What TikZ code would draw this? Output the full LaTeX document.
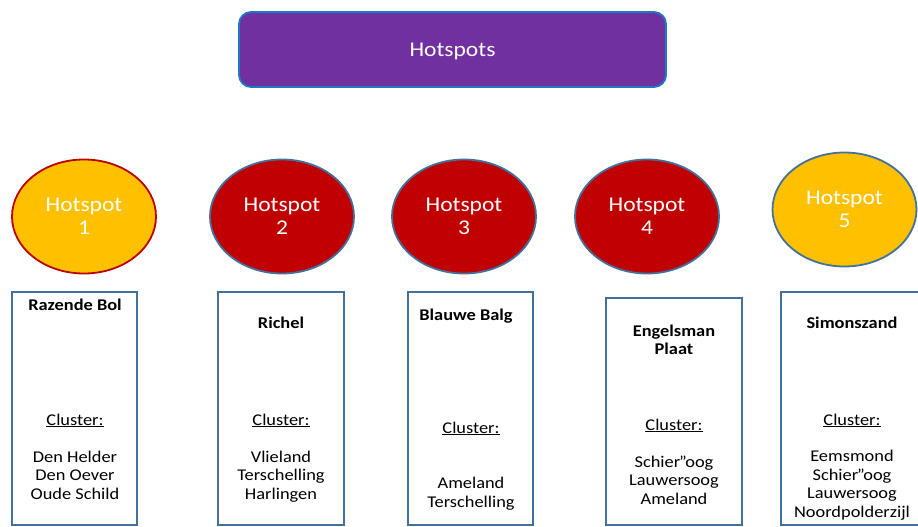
\documentclass[tikz,border=0pt]{standalone}
\usepackage{fontspec}
\setmainfont{Carlito}[FakeStretch=1.12]
\usetikzlibrary{shapes.geometric}
\definecolor{hspurple}{HTML}{7030A0}
\definecolor{hsblue}{HTML}{1F7AC3}
\definecolor{hsgold}{HTML}{FFC000}
\definecolor{hsred}{HTML}{C00000}
\definecolor{hsedge}{HTML}{41719C}
\tikzset{headbox/.style={draw=hsblue, fill=hspurple, line width=1.8pt, rounded corners=12pt,
    minimum width=427pt, minimum height=75pt, text height=15pt, text depth=0pt,
    text=white, font=\fontsize{21}{23}\selectfont},
  spot/.style={ellipse, draw=hsedge, line width=1.8pt, minimum width=144pt, minimum height=114pt,
    inner sep=0pt, text=white, align=center, font=\fontsize{21}{23.5}\selectfont},
  coldspot/.style={spot, fill=hsgold},
  hotspot/.style={spot, fill=hsred},
  clusterbox/.style={draw=hsedge, line width=1.8pt, minimum height=233pt, inner sep=0pt},
  boxtext/.style={anchor=base, inner sep=0pt, align=center, font=\fontsize{16.4}{18.5}\selectfont},
  boxhead/.style={boxtext, font=\fontsize{16.4}{18}\selectfont\bfseries}}

\begin{document}
\begin{tikzpicture}[x=1pt, y=-1pt]
\useasboundingbox (0,0) rectangle (918,527);
% top
\node[headbox] (hotspots) at (452.5,49.5) {Hotspots};
% hotspots
\node[coldspot, draw=hsred] (spot1) at (84,216.5) {Hotspot\\1};
\node[hotspot] (spot2) at (282,216.5) {Hotspot\\2};
\node[hotspot] (spot3) at (464,216.5) {Hotspot\\3};
\node[hotspot] (spot4) at (647,216.5) {Hotspot\\4};
\node[coldspot] (spot5) at (844.5,209.5) {Hotspot\\5};
% clusters (multi-line texts sit on the baseline of their last line)
\node[clusterbox, minimum width=125pt] (box1) at (74.5,408.5) {};
\node[clusterbox, minimum width=126pt] (box2) at (281,408.5) {};
\node[clusterbox, minimum width=125pt] (box3) at (470.5,408.5) {};
\node[clusterbox, minimum width=136pt, minimum height=227pt] (box4) at (674,411.5) {};
\node[clusterbox, minimum width=142pt] (box5) at (852,408.5) {};

\node[boxhead] (head1) at (75,310) {Razende Bol};
\node[boxtext] (cl1) at (75,425) {\underline{Cluster:}};
\node[boxtext] (list1) at (75,499) {Den Helder\\Den Oever\\Oude Schild};

\node[boxhead] (head2) at (281,328) {Richel};
\node[boxtext] (cl2) at (281,425) {\underline{Cluster:}};
\node[boxtext] (list2) at (281,499) {Vlieland\\Terschelling\\Harlingen};

\node[boxhead] (head3) at (466,320) {Blauwe Balg};
\node[boxtext] (cl3) at (471,433) {\underline{Cluster:}};
\node[boxtext] (list3) at (471,507) {Ameland\\Terschelling};

\node[boxhead] (head4) at (674,354) {Engelsman\\Plaat};
\node[boxtext] (cl4) at (674,430) {\underline{Cluster:}};
\node[boxtext] (list4) at (674,504) {Schier\kern-1.2pt”oog\\Lauwersoog\\Ameland};

\node[boxhead] (head5) at (852,328) {Simonszand};
\node[boxtext] (cl5) at (852,425) {\underline{Cluster:}};
\node[boxtext] (list5) at (852,517) {Eemsmond\\Schier\kern-1.2pt”oog\\Lauwersoog\\Noordpolderzijl};
\end{tikzpicture}
\end{document}
